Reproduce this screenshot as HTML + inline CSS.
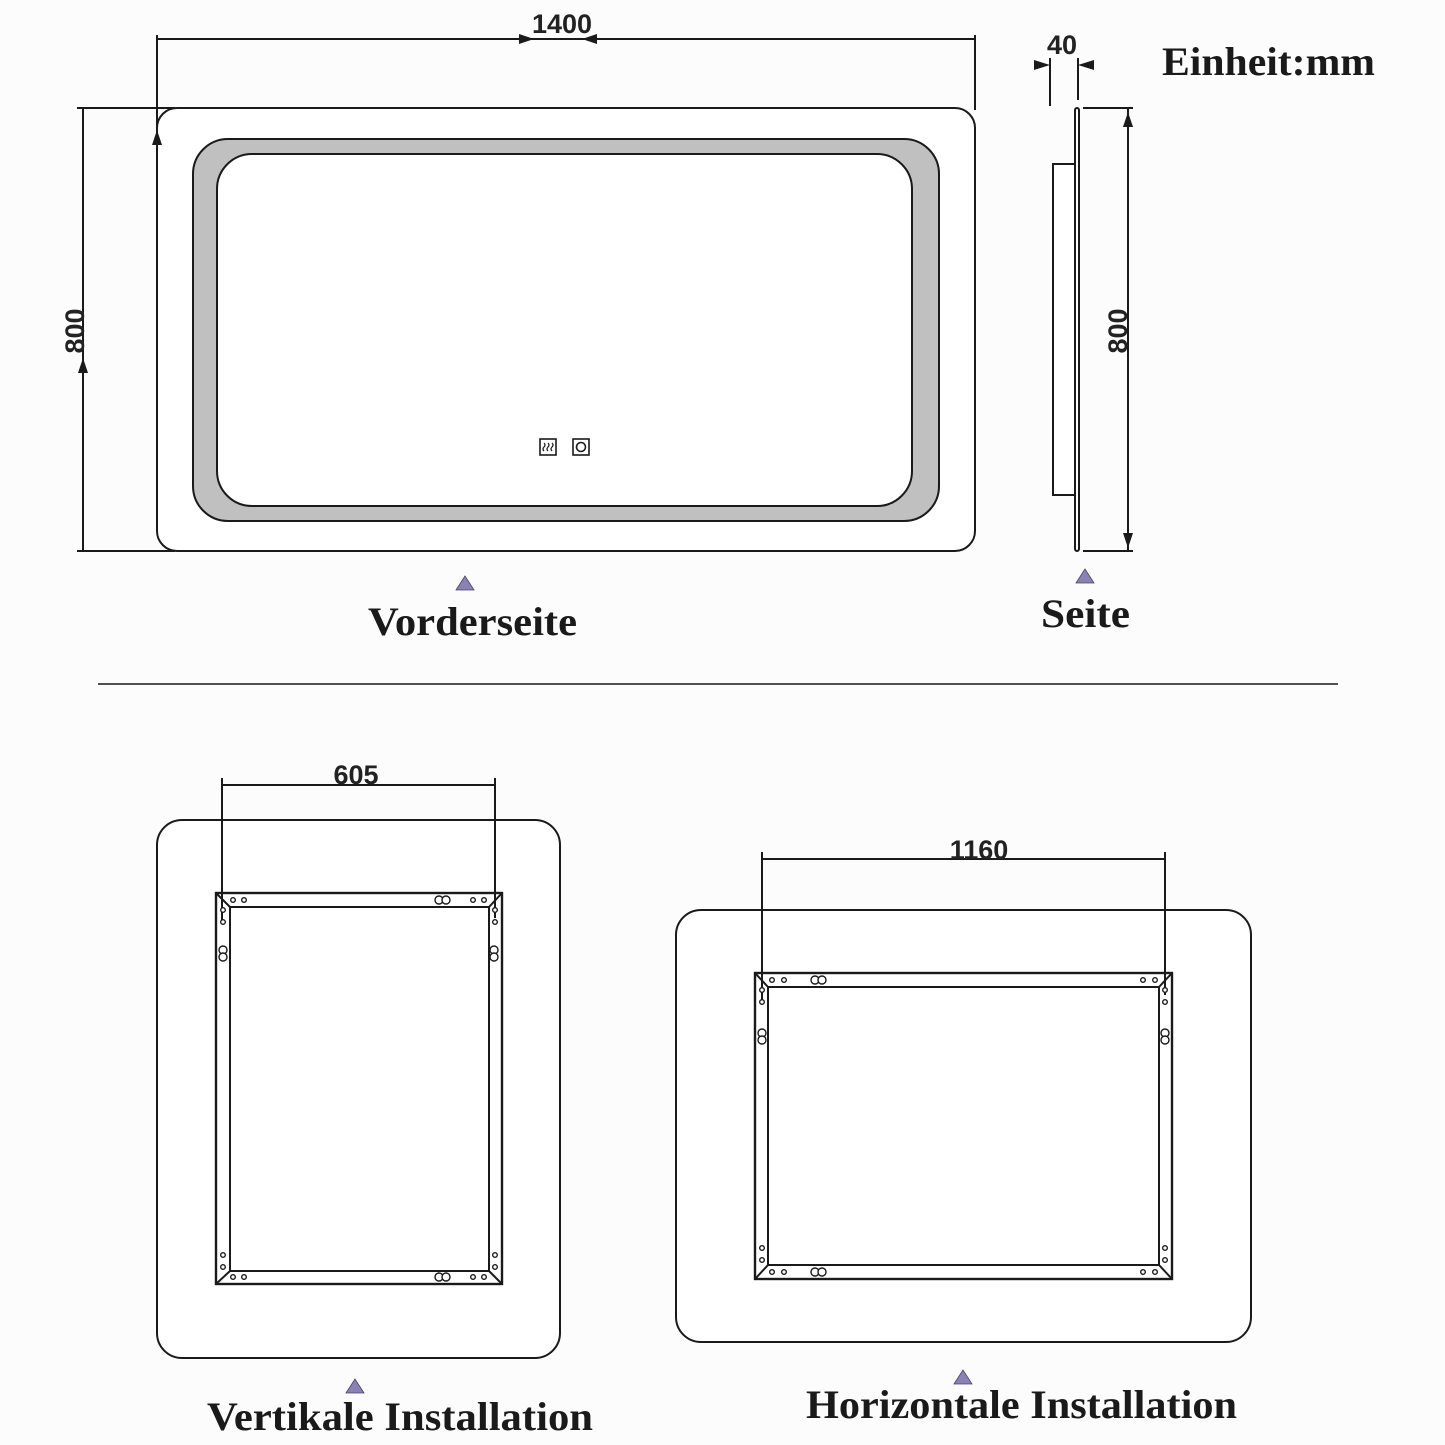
<!DOCTYPE html>
<html><head><meta charset="utf-8"><style>
html,body{margin:0;padding:0;background:#fcfcfc}
svg{display:block}
.d{font-family:"Liberation Sans",Arial,sans-serif;font-weight:bold;font-size:27px;fill:#222}
.s{font-family:"Liberation Serif",serif;font-weight:bold;font-size:40px;fill:#1a1a1a}
</style></head><body>
<svg width="1445" height="1445" viewBox="0 0 1445 1445" xmlns="http://www.w3.org/2000/svg">
<rect width="1445" height="1445" fill="#fcfcfc"/>
<g stroke="#1a1a1a" stroke-width="2" fill="none">
<rect x="157" y="108" width="818" height="443" rx="20" fill="#fff"/>
<path fill-rule="evenodd" fill="#c0c0c0" d="M228,139 H904 A35,35 0 0 1 939,174 V486 A35,35 0 0 1 904,521 H228 A35,35 0 0 1 193,486 V174 A35,35 0 0 1 228,139 Z M252,154 H877 A35,35 0 0 1 912,189 V471 A35,35 0 0 1 877,506 H252 A35,35 0 0 1 217,471 V189 A35,35 0 0 1 252,154 Z"/>
<rect x="540" y="439" width="16" height="16" stroke-width="1.6"/>
<path d="M544,443 q2,2 0,4 q-2,2 0,4 M548,443 q2,2 0,4 q-2,2 0,4 M552,443 q2,2 0,4 q-2,2 0,4" stroke-width="1.2"/>
<rect x="573" y="439" width="16" height="16" stroke-width="1.6"/>
<circle cx="581" cy="447" r="4.5" stroke-width="1.6"/>
<line x1="157" y1="35" x2="157" y2="130"/>
<line x1="975" y1="35" x2="975" y2="110"/>
<line x1="157" y1="39" x2="975" y2="39"/>
<line x1="77" y1="108" x2="175" y2="108"/>
<line x1="77" y1="551" x2="175" y2="551"/>
<line x1="83" y1="108" x2="83" y2="551"/>
<rect x="1075" y="108" width="4" height="443" rx="2" fill="#fff"/>
<rect x="1053" y="164" width="22" height="331" fill="#fff"/>
<line x1="1050" y1="58" x2="1050" y2="106"/>
<line x1="1078" y1="58" x2="1078" y2="100"/>
<line x1="1083" y1="108" x2="1133" y2="108"/>
<line x1="1083" y1="551" x2="1133" y2="551"/>
<line x1="1128" y1="108" x2="1128" y2="551"/>
<line x1="98" y1="684" x2="1338" y2="684" stroke-width="1.6"/>
<rect x="157" y="820" width="403" height="538" rx="25" fill="#fff"/>
<rect x="216" y="893" width="286" height="391" stroke-width="2.4"/>
<rect x="230" y="907" width="259" height="364"/>
<path d="M216,893 L230,907 M502,893 L489,907 M216,1284 L230,1271 M502,1284 L489,1271"/>
<line x1="222" y1="778" x2="222" y2="920"/>
<line x1="495" y1="778" x2="495" y2="918"/>
<line x1="222" y1="785" x2="495" y2="785"/>
<rect x="676" y="910" width="575" height="432" rx="25" fill="#fff"/>
<rect x="755" y="973" width="417" height="306" stroke-width="2.4"/>
<rect x="768" y="987" width="391" height="278"/>
<path d="M755,973 L768,987 M1172,973 L1159,987 M755,1279 L768,1265 M1172,1279 L1159,1265"/>
<line x1="762" y1="852" x2="762" y2="1000"/>
<line x1="1165" y1="852" x2="1165" y2="995"/>
<line x1="762" y1="859" x2="1165" y2="859"/>
</g>
<g stroke="#1a1a1a" stroke-width="1.4" fill="#fff">
<circle cx="233" cy="900" r="2.3"/><circle cx="244" cy="900" r="2.3"/><circle cx="473" cy="900" r="2.3"/><circle cx="484" cy="900" r="2.3"/>
<circle cx="223" cy="910" r="2.3"/><circle cx="223" cy="922" r="2.3"/><circle cx="495" cy="910" r="2.3"/><circle cx="495" cy="922" r="2.3"/>
<circle cx="223" cy="1255" r="2.3"/><circle cx="223" cy="1267" r="2.3"/><circle cx="495" cy="1255" r="2.3"/><circle cx="495" cy="1267" r="2.3"/>
<circle cx="233" cy="1277" r="2.3"/><circle cx="244" cy="1277" r="2.3"/><circle cx="473" cy="1277" r="2.3"/><circle cx="484" cy="1277" r="2.3"/>
<circle cx="439" cy="900" r="4"/><circle cx="446" cy="900" r="4"/>
<circle cx="439" cy="1277" r="4"/><circle cx="446" cy="1277" r="4"/>
<circle cx="223" cy="950" r="4"/><circle cx="223" cy="957" r="4"/>
<circle cx="494" cy="950" r="4"/><circle cx="494" cy="957" r="4"/>
<circle cx="772" cy="980" r="2.3"/><circle cx="784" cy="980" r="2.3"/><circle cx="1143" cy="980" r="2.3"/><circle cx="1155" cy="980" r="2.3"/>
<circle cx="762" cy="990" r="2.3"/><circle cx="762" cy="1002" r="2.3"/><circle cx="1165" cy="990" r="2.3"/><circle cx="1165" cy="1002" r="2.3"/>
<circle cx="762" cy="1248" r="2.3"/><circle cx="762" cy="1260" r="2.3"/><circle cx="1165" cy="1248" r="2.3"/><circle cx="1165" cy="1260" r="2.3"/>
<circle cx="772" cy="1272" r="2.3"/><circle cx="784" cy="1272" r="2.3"/><circle cx="1143" cy="1272" r="2.3"/><circle cx="1155" cy="1272" r="2.3"/>
<circle cx="815" cy="980" r="4"/><circle cx="822" cy="980" r="4"/>
<circle cx="815" cy="1272" r="4"/><circle cx="822" cy="1272" r="4"/>
<circle cx="762" cy="1033" r="4"/><circle cx="762" cy="1040" r="4"/>
<circle cx="1165" cy="1033" r="4"/><circle cx="1165" cy="1040" r="4"/>
</g>
<g fill="#1a1a1a">
<polygon points="534,39 519,34 519,44"/>
<polygon points="582,39 597,34 597,44"/>
<polygon points="83,358 78,373 88,373"/>
<polygon points="157,130 152,145 162,145"/>
<polygon points="1050,65 1034,60 1034,70"/>
<polygon points="1078,65 1094,60 1094,70"/>
<polygon points="1128,112 1123,127 1133,127"/>
<polygon points="1128,548 1123,533 1133,533"/>
</g>
<g fill="#8b82b4" stroke="#4a4070" stroke-width="0.8">
<polygon points="465,576 456,590 474,590"/>
<polygon points="1085,569 1076,583 1094,583"/>
<polygon points="355,1379 346,1393 364,1393"/>
<polygon points="963,1370 954,1384 972,1384"/>
</g>
<text class="d" x="562" y="33" text-anchor="middle">1400</text>
<text class="d" x="1062" y="54" text-anchor="middle">40</text>
<text class="d" x="356" y="784" text-anchor="middle">605</text>
<text class="d" x="979" y="859" text-anchor="middle">1160</text>
<text class="d" transform="translate(84,331) rotate(-90)" text-anchor="middle">800</text>
<text class="d" transform="translate(1127,331) rotate(-90)" text-anchor="middle">800</text>
<text class="s" x="1162" y="75" textLength="213" lengthAdjust="spacingAndGlyphs">Einheit:mm</text>
<text class="s" x="368" y="635" textLength="209" lengthAdjust="spacingAndGlyphs">Vorderseite</text>
<text class="s" x="1041" y="627" textLength="89" lengthAdjust="spacingAndGlyphs">Seite</text>
<text class="s" x="207" y="1430" textLength="386" lengthAdjust="spacingAndGlyphs">Vertikale Installation</text>
<text class="s" x="806" y="1418" textLength="431" lengthAdjust="spacingAndGlyphs">Horizontale Installation</text>
</svg>
</body></html>
